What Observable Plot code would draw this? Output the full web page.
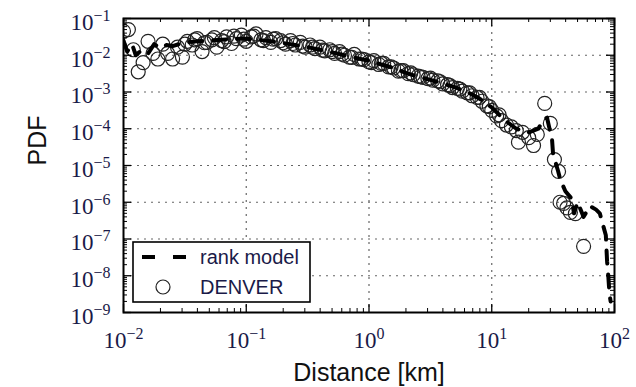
<!DOCTYPE html>
<html><head><meta charset="utf-8">
<script src="https://cdn.jsdelivr.net/npm/d3@7"></script>
<script src="https://cdn.jsdelivr.net/npm/@observablehq/plot@0.6"></script>
<style>
html,body{margin:0;padding:0;background:#fff;}
#chart{width:636px;height:387px;}
</style></head><body><div id="chart"></div>
<script>
// ---- DENVER data (distance in km, PDF) ----
const denverDistance = [
  0.01, 0.01096, 0.01202, 0.01318, 0.01445, 0.01585, 0.01738, 0.01905, 0.02089, 0.02291,
  0.02512, 0.02754, 0.0302, 0.03311, 0.03631, 0.03981, 0.04365, 0.04786, 0.05248, 0.05754,
  0.0631, 0.06918, 0.07586, 0.08318, 0.0912, 0.1, 0.1096, 0.1202, 0.1318, 0.1445,
  0.1585, 0.1738, 0.1905, 0.2089, 0.2291, 0.2512, 0.2754, 0.302, 0.3311, 0.3631,
  0.3981, 0.4365, 0.4786, 0.5248, 0.5754, 0.631, 0.6918, 0.7586, 0.8318, 0.912,
  1.0, 1.096, 1.202, 1.318, 1.445, 1.585, 1.738, 1.905, 2.089, 2.291,
  2.512, 2.754, 3.02, 3.311, 3.631, 3.981, 4.365, 4.786, 5.248, 5.754,
  6.31, 6.918, 7.586, 8.318, 9.12, 10.0, 10.96, 12.02, 13.18, 14.45, 15.85,
  0.03162, 0.03802, 0.04571, 0.05495, 0.06607, 0.07943, 0.0955, 0.1148, 0.138, 0.166,
  0.1995, 0.2399, 0.2884, 0.3467, 0.4169, 0.5012, 0.6026, 0.7244, 0.871, 1.047,
  1.259, 1.514, 1.82, 2.188, 2.63, 3.162, 3.802, 4.571, 5.495, 6.607, 7.943, 9.55, 11.48,
  16.5, 17.8, 20, 21.9, 23.5, 27, 30, 32.4, 35, 36, 38.5, 41, 43.7, 48, 56
];
const denverPdf = [
  0.0447, 0.0501, 0.0141, 0.00355, 0.0063, 0.024, 0.0112, 0.0079, 0.02, 0.0112,
  0.0079, 0.0166, 0.0089, 0.024, 0.019, 0.0282, 0.0126, 0.0224, 0.0263, 0.0166,
  0.0251, 0.0316, 0.0209, 0.0282, 0.0355, 0.024, 0.0316, 0.038, 0.0263, 0.0302,
  0.0224, 0.0282, 0.0251, 0.02, 0.0251, 0.019, 0.0224, 0.0166, 0.019, 0.0151,
  0.0166, 0.0132, 0.0141, 0.0112, 0.0126, 0.01, 0.0089, 0.0105, 0.0079, 0.0076,
  0.0066, 0.0071, 0.0056, 0.006, 0.0048, 0.0045, 0.0037, 0.0038, 0.00316, 0.00295,
  0.0027, 0.0025, 0.0023, 0.0021, 0.002, 0.00166, 0.00158, 0.00132, 0.00126, 0.00105,
  0.00095, 0.00079, 0.00071, 0.00056, 0.00042, 0.000316, 0.000224, 0.000166, 0.000126, 0.000112, 0.0000891,
  0.02, 0.0263, 0.0219, 0.0302, 0.0234, 0.0331, 0.0275, 0.0331, 0.0251, 0.0275,
  0.0219, 0.0209, 0.0178, 0.0166, 0.0138, 0.0126, 0.0107, 0.0087, 0.0079, 0.0063,
  0.006, 0.0048, 0.0038, 0.0033, 0.0026, 0.0024, 0.0019, 0.0015, 0.0012, 0.00095, 0.00071, 0.0004, 0.00024,
  0.000043, 0.00008, 0.000057, 0.000035, 0.00007, 0.00049, 0.00014, 0.0000145, 0.0000069, 0.000001, 0.00000093, 0.0000007, 0.00000053, 0.00000049, 0.000000063
];

// ---- rank model curve ----
const modelDistance = [
  0.01, 0.01072, 0.01175, 0.01259, 0.01413, 0.01585, 0.01778, 0.01995, 0.02239, 0.02512,
  0.03162, 0.03981, 0.05012, 0.0631, 0.07943, 0.1, 0.1259, 0.1585, 0.1995, 0.2512,
  0.3162, 0.3981, 0.5012, 0.631, 0.7943, 1.0, 1.259, 1.585, 1.995, 2.512,
  3.162, 3.981, 5.012, 6.31, 7.943, 10, 12.59, 15.85,
  19.95, 24, 26.3, 28.2, 31, 31.6, 34.7, 36.3, 39.8, 44.7, 46.8, 50, 56, 63, 70.8, 75.9, 85, 87, 89, 91, 93
];
const modelPdf = [
  0.0251, 0.0126, 0.02, 0.01, 0.0141, 0.0112, 0.02, 0.0158, 0.019, 0.0178,
  0.0224, 0.024, 0.0251, 0.0263, 0.0282, 0.0282, 0.0263, 0.024, 0.0214, 0.019,
  0.0166, 0.0141, 0.012, 0.01, 0.0083, 0.0071, 0.0056, 0.0045, 0.0033, 0.0026,
  0.00214, 0.0017, 0.00135, 0.001, 0.00066, 0.00038, 0.000178, 0.0001,
  0.000079, 0.0001, 0.000178, 0.0002, 0.00005, 0.00002, 0.0000071, 0.000004, 0.000002, 0.00000126, 0.0000005, 0.000001, 0.0000004, 0.00000079, 0.00000063, 0.0000005, 0.000000126, 0.000000025, 0.00000001, 0.0000000032, 0.000000002
];

// ---- axes ----
const xTicks = [0.01, 0.1, 1, 10, 100];
const xTickExponents = ["\u22122", "\u22121", "0", "1", "2"];
const yTicks = [1e-9, 1e-8, 1e-7, 1e-6, 1e-5, 1e-4, 1e-3, 1e-2, 1e-1];
const yTickExponents = ["\u22129", "\u22128", "\u22127", "\u22126", "\u22125", "\u22124", "\u22123", "\u22122", "\u22121"];
const xLabel = "Distance [km]";
const yLabel = "PDF";
const seriesNames = ["rank model", "DENVER"];

const W = 636, H = 387, mL = 123, mR = 22, mT = 18, mB = 75;
const pw = W - mL - mR, ph = H - mT - mB;

const denver = denverDistance.map((d, i) => ({distance: d, pdf: denverPdf[i]}));
const model = modelDistance.map((d, i) => ({distance: d, pdf: modelPdf[i]}));
const minors = (ticks) => ticks.slice(0, -1).flatMap(d => [2,3,4,5,6,7,8,9].map(k => d * k));
const xMinor = minors(xTicks), yMinor = minors(yTicks);

const serif = "'Liberation Serif', 'DejaVu Serif', serif";
const sans = "'Liberation Sans', Arial, sans-serif";
const labelColor = "#1a1a48";

const svg = Plot.plot({
  width: W, height: H,
  marginLeft: mL, marginRight: mR, marginTop: mT, marginBottom: mB,
  style: {background: "white", overflow: "visible"},
  x: {type: "log", domain: [0.01, 100]},
  y: {type: "log", domain: [1e-9, 1e-1]},
  marks: [
    Plot.ruleX(xTicks.slice(1, -1), {x: d => d, stroke: "#666", strokeWidth: 1.2, strokeDasharray: "2,5"}),
    Plot.ruleY(yTicks.slice(1, -1), {y: d => d, stroke: "#666", strokeWidth: 1.2, strokeDasharray: "2,5"}),
    Plot.dot(denver, {x: "distance", y: "pdf", r: 7, stroke: "#222", strokeWidth: 1.2, fill: "none", clip: true}),
    Plot.line(model, {x: "distance", y: "pdf", stroke: "black", strokeWidth: 4, strokeDasharray: "13,11", clip: true}),
    // inward ticks on all four sides
    Plot.tickX(xTicks, {x: d => d, insetTop: ph - 8, stroke: "black", strokeWidth: 1.3}),
    Plot.tickX(xTicks, {x: d => d, insetBottom: ph - 8, stroke: "black", strokeWidth: 1.3}),
    Plot.tickX(xMinor, {x: d => d, insetTop: ph - 4, stroke: "black", strokeWidth: 1}),
    Plot.tickX(xMinor, {x: d => d, insetBottom: ph - 4, stroke: "black", strokeWidth: 1}),
    Plot.tickY(yTicks, {y: d => d, insetRight: pw - 8, stroke: "black", strokeWidth: 1.3}),
    Plot.tickY(yTicks, {y: d => d, insetLeft: pw - 8, stroke: "black", strokeWidth: 1.3}),
    Plot.tickY(yMinor, {y: d => d, insetRight: pw - 4, stroke: "black", strokeWidth: 1}),
    Plot.tickY(yMinor, {y: d => d, insetLeft: pw - 4, stroke: "black", strokeWidth: 1}),
    Plot.axisX(xTicks, {tickSize: 0, tickPadding: 19, label: null, fontSize: 23, fontFamily: serif, fill: labelColor,
      tickFormat: d => "10|" + xTickExponents[xTicks.indexOf(d)]}),
    Plot.axisY(yTicks, {tickSize: 0, tickPadding: 13, dy: 4, label: null, fontSize: 23, fontFamily: serif, fill: labelColor,
      tickFormat: d => "10|" + yTickExponents[yTicks.indexOf(d)]}),
    Plot.text([xLabel], {frameAnchor: "bottom", dy: 60, lineAnchor: "middle", fontSize: 25, fontFamily: sans, fill: "#111"}),
    Plot.text([yLabel], {frameAnchor: "left", dx: -86, rotate: -90, fontSize: 25, fontFamily: sans, fill: "#111"}),
    Plot.frame({stroke: "black", strokeWidth: 2})
  ]
});

// render exponents as superscripts
svg.querySelectorAll('g[aria-label="x-axis tick label"] text, g[aria-label="y-axis tick label"] text').forEach(t => {
  const s = t.textContent;
  if (!s.includes("|")) return;
  const [base, exp] = s.split("|");
  t.textContent = base;
  const ts = document.createElementNS("http://www.w3.org/2000/svg", "tspan");
  ts.setAttribute("font-size", "16");
  ts.setAttribute("dy", "-9");
  ts.textContent = exp;
  t.appendChild(ts);
});

// legend inside the axes (lower left)
const g = d3.select(svg).append("g").attr("class", "legend").attr("text-anchor", "start");
g.append("rect").attr("x", 133).attr("y", 242).attr("width", 177).attr("height", 60)
  .attr("fill", "white").attr("stroke", "black").attr("stroke-width", 1.6);
g.append("line").attr("x1", 142).attr("x2", 186).attr("y1", 257).attr("y2", 257)
  .attr("stroke", "black").attr("stroke-width", 4).attr("stroke-dasharray", "13,18");
g.append("circle").attr("cx", 163).attr("cy", 287).attr("r", 7)
  .attr("fill", "none").attr("stroke", "#222").attr("stroke-width", 1.2);
g.append("text").attr("x", 200).attr("y", 257).attr("dy", "0.35em").attr("text-anchor", "start").text(seriesNames[0])
  .attr("font-family", sans).attr("font-size", 20).attr("fill", labelColor);
g.append("text").attr("x", 200).attr("y", 287).attr("dy", "0.35em").attr("text-anchor", "start").text(seriesNames[1])
  .attr("font-family", sans).attr("font-size", 20).attr("fill", labelColor);

document.getElementById("chart").appendChild(svg);
</script>
</body></html>
